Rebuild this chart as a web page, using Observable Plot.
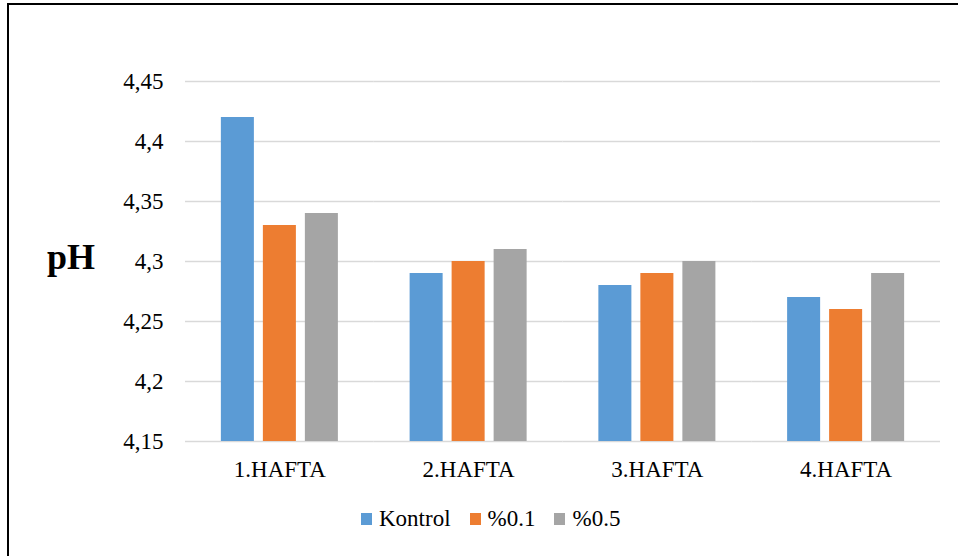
<!DOCTYPE html>
<html>
<head>
<meta charset="utf-8">
<script src="https://cdn.jsdelivr.net/npm/d3@7"></script>
<script src="https://cdn.jsdelivr.net/npm/@observablehq/plot@0.6"></script>
<style>
  html, body { margin: 0; padding: 0; background: #fff; }
  #wrap { position: relative; width: 958px; height: 556px; overflow: hidden; font-family: "Liberation Serif", serif; }
  #frame { position: absolute; left: 7px; top: 3px; width: 960px; height: 560px; border-left: 2px solid #000; border-top: 2px solid #000; box-sizing: border-box; }
  #chart { position: absolute; left: 0; top: 0; }
  #chart svg, #chart svg text { font-family: "Liberation Serif", serif !important; }
  #ylabel { position: absolute; left: 47px; top: 239px; font-family: "Liberation Serif", serif; font-size: 36px; font-weight: bold; line-height: 1; }
  #legend { position: absolute; left: 361px; top: 506px; display: flex; align-items: center; font-family: "Liberation Serif", serif; font-size: 23px; color: #000; }
  .item { display: flex; align-items: center; margin-right: 19px; }
  .sw { width: 11px; height: 12px; margin-right: 7px; }
</style>
</head>
<body>
<div id="wrap">
  <div id="frame"></div>
  <div id="chart"></div>
  <div id="ylabel">pH</div>
  <div id="legend"></div>
</div>
<script>
const weeks = ["1.HAFTA", "2.HAFTA", "3.HAFTA", "4.HAFTA"];
const series = ["Kontrol", "%0.1", "%0.5"];
const kontrol = [4.42, 4.29, 4.28, 4.27];
const p01 = [4.33, 4.30, 4.29, 4.26];
const p05 = [4.34, 4.31, 4.30, 4.29];
const yTicks = [4.15, 4.2, 4.25, 4.3, 4.35, 4.4, 4.45];
const yTickLabels = ["4,15", "4,2", "4,25", "4,3", "4,35", "4,4", "4,45"];
const colors = ["#5B9BD5", "#ED7D31", "#A5A5A5"];

const valuesBySeries = [kontrol, p01, p05];
const rows = [];
weeks.forEach((w, i) => {
  series.forEach((s, j) => {
    rows.push({week: w, series: s, value: valuesBySeries[j][i], base: yTicks[0]});
  });
});

const chart = Plot.plot({
  width: 958,
  height: 490,
  marginLeft: 185,
  marginRight: 18,
  marginTop: 81,
  marginBottom: 49,
  style: {fontFamily: "Liberation Serif, serif", fontSize: "23px", color: "#000", background: "transparent"},
  fx: {domain: weeks, padding: 0, round: false, label: null, axis: "bottom", tickSize: 0, tickPadding: 19},
  x: {domain: series, paddingInner: 0.214, paddingOuter: 0.854, round: false, axis: null},
  y: {domain: [yTicks[0], yTicks[yTicks.length - 1]], ticks: yTicks, tickFormat: (d) => yTickLabels[yTicks.indexOf(d)], tickSize: 0, tickPadding: 22, label: null},
  color: {domain: series, range: colors},
  marks: [
    Plot.ruleY(yTicks, {stroke: "#d9d9d9", strokeWidth: 1.5}),
    Plot.barY(rows, {fx: "week", x: "series", y1: "base", y2: "value", fill: "series"})
  ]
});
document.getElementById("chart").appendChild(chart);

const legend = document.getElementById("legend");
series.forEach((s, j) => {
  const it = document.createElement("div");
  it.className = "item";
  const sw = document.createElement("div");
  sw.className = "sw";
  sw.style.background = colors[j];
  const t = document.createElement("span");
  t.textContent = s;
  it.appendChild(sw);
  it.appendChild(t);
  legend.appendChild(it);
});
</script>
</body>
</html>
